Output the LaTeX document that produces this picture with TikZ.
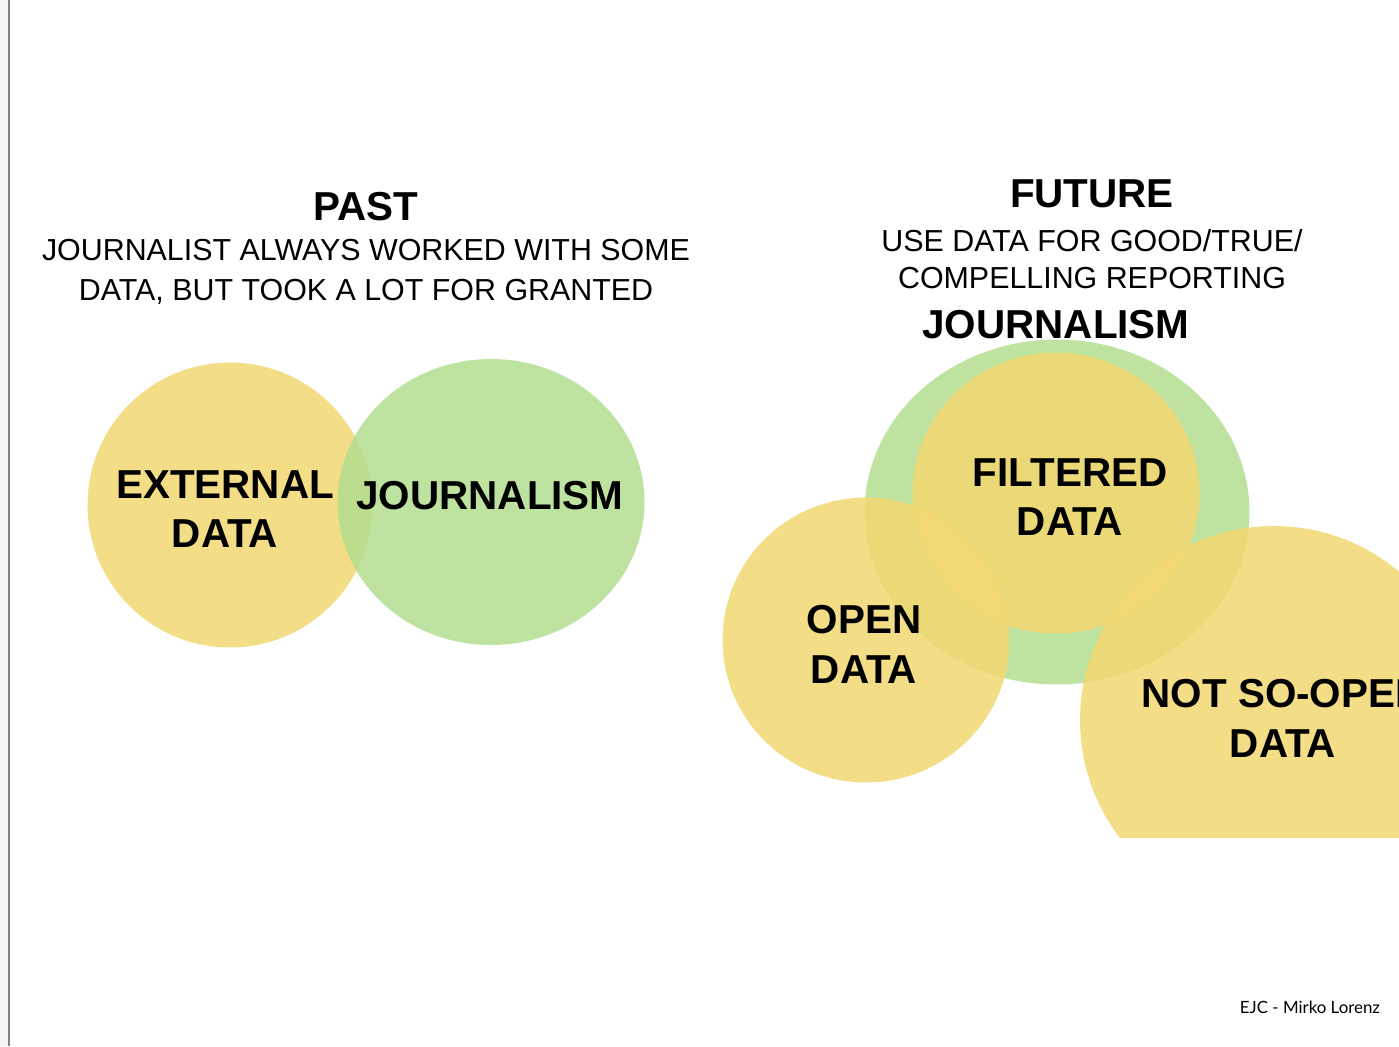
\documentclass[tikz,border=0pt]{standalone}
\usepackage{fontspec}
\setmainfont{Liberation Sans}
\newfontfamily\creditfont{Lato}
\usetikzlibrary{shapes.geometric}

\definecolor{datayellow}{RGB}{243,216,114}
\definecolor{journgreen}{RGB}{179,222,143}

\begin{document}
\begin{tikzpicture}[x=0.02cm,y=-0.02cm,
	blob/.style={ellipse,inner sep=0pt,outer sep=0pt},
	datablob/.style={blob,fill=datayellow,fill opacity=0.85},
	journblob/.style={blob,fill=journgreen,fill opacity=0.85},
	biglabel/.style={inner sep=0pt,align=center,font=\bfseries\fontsize{23}{28.35}\selectfont},
	sublabel/.style={inner sep=0pt,align=center,font=\fontsize{17.3}{22.7}\selectfont}]
	\useasboundingbox (0,0) rectangle (1399,1046);
	\fill[white] (0,0) rectangle (1399,1046);
	% slide edge
	\fill[black!4] (0,0) rectangle (8,1046);
	\draw[black!50,line width=0.04cm] (9,0) -- (9,1046);

	% past
	\node[biglabel] (past) at (366,207) {PAST};
	\node[sublabel] (pastsub) at (366,272) {JOURNALIST ALWAYS WORKED WITH SOME\\DATA, BUT TOOK A LOT FOR GRANTED};
	\node[datablob,minimum width=5.7cm,minimum height=5.7cm] (ext) at (230,505) {};
	\node[journblob,minimum width=6.14cm,minimum height=5.72cm] (jour) at (491,502) {};
	\node[biglabel] (extlbl) at (225,509) {EXTERNAL\\DATA};
	\node[biglabel] (jourlbl) at (490,496) {JOURNALISM};

	% future
	\node[biglabel] (future) at (1092,194) {FUTURE};
	\node[sublabel,font=\fontsize{17.3}{21}\selectfont] (futsub) at (1092,259) {USE DATA FOR GOOD/TRUE/\\COMPELLING REPORTING};
	\node[journblob,minimum width=7.7cm,minimum height=6.9cm] (fjour) at (1057,512) {};
	\node[datablob,minimum width=5.74cm,minimum height=5.62cm] (filt) at (1056,493) {};
	\node[datablob,minimum width=5.74cm,minimum height=5.7cm] (open) at (866,640) {};
	\begin{scope}
		\clip (0,0) rectangle (1399,837);
		\node[datablob,minimum width=7.76cm,minimum height=7.76cm] (notopen) at (1274,720) {};
		\node[biglabel] (notopenlbl) at (1283,718) {NOT SO-OPEN\\DATA};
	\end{scope}
	\node[biglabel] (fjourlbl) at (1056,325) {JOURNALISM};
	\node[biglabel] (filtlbl) at (1070,497) {FILTERED\\DATA};
	\node[biglabel] (openlbl) at (864,644) {OPEN\\DATA};

	\node[inner sep=0pt,font=\creditfont\fontsize{9.6}{11}\selectfont] (credit) at (1310,1007) {EJC - Mirko Lorenz};
\end{tikzpicture}
\end{document}
